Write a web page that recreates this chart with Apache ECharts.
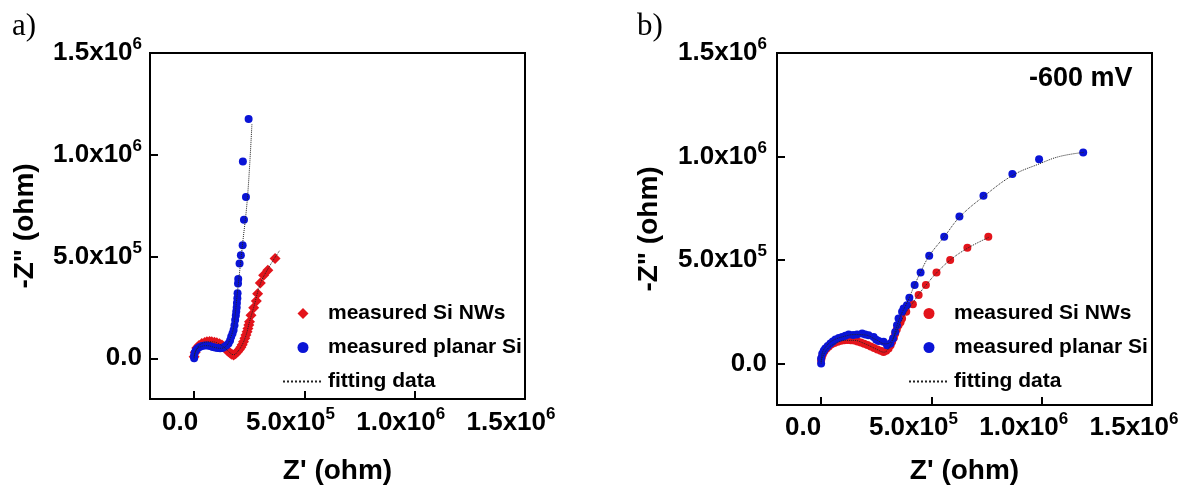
<!DOCTYPE html>
<html>
<head>
<meta charset="utf-8">
<script src="https://cdn.jsdelivr.net/npm/echarts@6/dist/echarts.min.js"></script>
<style>
  html, body { margin: 0; background: #fff; }
  #chart { width: 1191px; height: 486px; }
</style>
</head>
<body>
<div id="chart"></div>
<script>
// axis ticks (both axes, both panels)
const tickValues = [0, 5e5, 1e6, 1.5e6]
const tickMantissa = ['0.0', '5.0x10', '1.0x10', '1.5x10']
const tickExponent = ['', '5', '6', '6']

// panel a) — [Z', -Z'']
const nwA = [[0,8e3],[5e3,3e4],[1.2e4,5e4],[2.2e4,6.3e4],[3.5e4,7.3e4],[4.8e4,7.8e4],[5.8e4,8.1e4],[7e4,8.2e4],[8e4,8.1e4],[9.2e4,7.9e4],[1.03e5,7.6e4],[1.15e5,7.1e4],[1.26e5,6.5e4],[1.34e5,5.7e4],[1.41e5,4.9e4],[1.49e5,4e4],[1.56e5,3.2e4],[1.64e5,2.5e4],[1.71e5,2e4],[1.79e5,1.6e4],[1.88e5,2.2e4],[1.97e5,3.2e4],[2.05e5,4.3e4],[2.12e5,5.4e4],[2.18e5,6.7e4],[2.24e5,8.1e4],[2.3e5,9.8e4],[2.35e5,1.14e5],[2.4e5,1.3e5],[2.44e5,1.47e5],[2.48e5,1.63e5],[2.51e5,1.79e5],[2.58e5,2.12e5],[2.7e5,2.48e5],[2.82e5,2.82e5],[2.88e5,3.17e5],[3.0e5,3.7e5],[3.15e5,4.08e5],[3.34e5,4.33e5],[3.67e5,4.9e5]]
const planarA = [[0,0],[0,1.5e4],[3e3,2.8e4],[8e3,3.9e4],[1.5e4,4.8e4],[2.5e4,5.5e4],[3.6e4,6e4],[4.8e4,6.3e4],[6e4,6.3e4],[7.2e4,6e4],[8.4e4,5.6e4],[9.5e4,5.3e4],[1.06e5,5e4],[1.18e5,4.9e4],[1.28e5,5.1e4],[1.36e5,5.5e4],[1.46e5,6.3e4],[1.56e5,7.3e4],[1.63e5,8.8e4],[1.68e5,1.06e5],[1.74e5,1.22e5],[1.79e5,1.39e5],[1.83e5,1.62e5],[1.86e5,1.88e5],[1.89e5,2.1e5],[1.91e5,2.3e5],[1.93e5,2.5e5],[1.94e5,2.72e5],[1.96e5,2.95e5],[1.97e5,3.2e5],[1.99e5,3.68e5],[2.0e5,3.9e5],[2.06e5,4.66e5],[2.12e5,5.06e5],[2.2e5,5.55e5],[2.26e5,6.81e5],[2.35e5,7.92e5],[2.21e5,9.67e5],[2.47e5,1.176e6]]
const fitNwA = [[0,1e4],[2e4,6e4],[5e4,7.9e4],[8e4,8.1e4],[1.1e5,7.3e4],[1.4e5,5e4],[1.65e5,2.5e4],[1.8e5,1.7e4],[1.95e5,3e4],[2.15e5,6e4],[2.35e5,1.12e5],[2.5e5,1.75e5],[2.7e5,2.5e5],[3.0e5,3.65e5],[3.35e5,4.4e5],[3.88e5,5.3e5]]
const fitPlanarA = [[0,0],[8e3,4e4],[3e4,5.7e4],[6e4,6.2e4],[9e4,5.4e4],[1.2e5,4.9e4],[1.45e5,6e4],[1.65e5,1e5],[1.8e5,1.6e5],[1.94e5,3.0e5],[2.18e5,5.45e5],[2.42e5,7.92e5],[2.62e5,1.15e6]]

// panel b) — [Z', -Z''] at -600 mV
const nwB = [[0,1.5e4],[3e3,3e4],[8e3,4.5e4],[1.5e4,6e4],[2.5e4,7.3e4],[3.5e4,8.3e4],[4.7e4,9.3e4],[6e4,1.0e5],[7.5e4,1.06e5],[9e4,1.1e5],[1.05e5,1.13e5],[1.2e5,1.14e5],[1.35e5,1.13e5],[1.5e5,1.11e5],[1.65e5,1.07e5],[1.8e5,1.02e5],[1.95e5,9.6e4],[2.1e5,9e4],[2.25e5,8.3e4],[2.4e5,7.5e4],[2.55e5,6.8e4],[2.7e5,6.2e4],[2.83e5,5.6e4],[2.95e5,6.2e4],[3.06e5,7.3e4],[3.15e5,8.8e4],[3.22e5,1.05e5],[3.3e5,1.25e5],[3.36e5,1.45e5],[3.43e5,1.65e5],[3.51e5,1.85e5],[3.6e5,2.0e5],[3.67e5,2.18e5],[3.86e5,2.5e5],[4.16e5,2.87e5],[4.42e5,3.31e5],[4.75e5,3.8e5],[5.23e5,4.4e5],[5.85e5,5.0e5],[6.63e5,5.6e5],[7.58e5,6.13e5]]
const planarB = [[0,0],[0,2.4e4],[5e3,4.8e4],[1.2e4,6.2e4],[1.9e4,7.3e4],[3e4,8.5e4],[4.2e4,9.7e4],[5.3e4,1.07e5],[6.5e4,1.16e5],[8e4,1.23e5],[9.5e4,1.29e5],[1.1e5,1.35e5],[1.25e5,1.4e5],[1.45e5,1.38e5],[1.63e5,1.4e5],[1.86e5,1.45e5],[2.0e5,1.4e5],[2.15e5,1.37e5],[2.38e5,1.29e5],[2.5e5,1.15e5],[2.61e5,1.09e5],[2.83e5,1.05e5],[2.99e5,8.9e4],[3.14e5,9.7e4],[3.26e5,1.21e5],[3.36e5,1.53e5],[3.44e5,1.85e5],[3.51e5,2.18e5],[3.67e5,2.5e5],[3.74e5,2.66e5],[3.89e5,2.82e5],[4.0e5,3.18e5],[4.24e5,3.79e5],[4.51e5,4.4e5],[4.9e5,5.21e5],[5.58e5,6.13e5],[6.27e5,7.1e5],[7.36e5,8.11e5],[8.67e5,9.16e5],[9.88e5,9.87e5],[1.188e6,1.019e6]]
const fitNwB = [[0,1e4],[2e4,6e4],[6e4,9.5e4],[1.1e5,1.12e5],[1.5e5,1.12e5],[2e5,9.5e4],[2.5e5,7e4],[2.85e5,5.5e4],[3.1e5,8e4],[3.35e5,1.4e5],[3.6e5,2e5],[3.9e5,2.55e5],[4.2e5,3e5],[4.5e5,3.45e5],[4.8e5,3.85e5],[5.25e5,4.4e5],[5.85e5,5e5],[6.6e5,5.55e5],[7.6e5,6.1e5]]
const fitPlanarB = [[0,0],[5e3,5e4],[2e4,8e4],[5e4,1.1e5],[1e5,1.3e5],[1.5e5,1.4e5],[2e5,1.38e5],[2.5e5,1.15e5],[2.9e5,9.5e4],[3.2e5,1.1e5],[3.4e5,1.7e5],[3.6e5,2.3e5],[3.9e5,2.95e5],[4.2e5,3.7e5],[4.5e5,4.4e5],[4.9e5,5.2e5],[5.6e5,6.15e5],[6.3e5,7.1e5],[7.4e5,8.1e5],[8.7e5,9.1e5],[9.9e5,9.65e5],[1.08e6,1.0e6],[1.19e6,1.02e6]]

const FONT = '"Liberation Sans", Arial, sans-serif'
const RED = '#e3141b'
const BLUE = '#0a14d6'
const DIAMOND = 'path://M5,0L10,5L5,10L0,5Z'

const rich = {
  b: { fontSize: 26, fontWeight: 'bold', fontFamily: FONT, color: '#000', lineHeight: 34 },
  s: { fontSize: 17, fontWeight: 'bold', fontFamily: FONT, color: '#000', lineHeight: 17, verticalAlign: 'top' }
}

// 刻度标签：尾数 + 上标指数
function tickFormatter(value) {
  const i = tickValues.findIndex((v) => Math.abs(v - value) < 1)
  if (i < 0) return ''
  return tickExponent[i] ? `{b|${tickMantissa[i]}}{s|${tickExponent[i]}}` : `{b|${tickMantissa[i]}}`
}

const nameStyle = { fontSize: 28, fontWeight: 'bold', fontFamily: FONT, color: '#000' }
const axisLine = { onZero: false, lineStyle: { color: '#000', width: 2 } }
const axisTick = { inside: true, length: 8, lineStyle: { color: '#000', width: 2 }, customValues: tickValues }

function xAxis(gridIndex, shift, margin, nameGap) {
  return {
    type: 'value', gridIndex, min: -2e5, max: 1.5e6,
    name: "Z' (ohm)", nameLocation: 'middle', nameGap, nameTextStyle: nameStyle,
    axisLine, axisTick,
    axisLabel: { customValues: tickValues, formatter: tickFormatter, rich, margin, padding: [0, shift, 0, 0] },
    splitLine: { show: false }
  }
}

function yAxis(gridIndex, margin, nameGap) {
  return {
    type: 'value', gridIndex, min: -2e5, max: 1.5e6,
    name: '-Z" (ohm)', nameLocation: 'middle', nameGap, nameTextStyle: nameStyle,
    axisLine, axisTick,
    axisLabel: { customValues: tickValues, formatter: tickFormatter, rich, margin },
    splitLine: { show: false }
  }
}

function scatter(name, data, idx, symbol, size, color) {
  return {
    name, type: 'scatter', xAxisIndex: idx, yAxisIndex: idx, data,
    symbol, symbolSize: size, itemStyle: { color, opacity: 1 }
  }
}

function fit(data, idx) {
  return {
    name: 'fitting data', type: 'line', xAxisIndex: idx, yAxisIndex: idx, data,
    smooth: 0.4, symbol: 'none', z: 5,
    itemStyle: { color: '#222' },
    lineStyle: { color: '#222', width: 1, type: 'dotted' }
  }
}

function legend(left, top, nwIcon) {
  return {
    orient: 'vertical', left, top, itemWidth: 40, itemHeight: 11, itemGap: 13,
    selectedMode: false,
    textStyle: { fontSize: 21, fontWeight: 'bold', fontFamily: FONT, color: '#000' },
    data: [
      { name: 'measured Si NWs', icon: nwIcon },
      { name: 'measured planar Si', icon: 'circle' },
      { name: 'fitting data', itemStyle: { opacity: 0 } }
    ]
  }
}

const chart = echarts.init(document.getElementById('chart'))
chart.setOption({
  animation: false,
  backgroundColor: '#fff',
  grid: [
    { left: 150, top: 53, width: 375, height: 346, outerBoundsMode: 'none', show: true, borderColor: '#000', borderWidth: 2 },
    { left: 777, top: 53, width: 375, height: 352, outerBoundsMode: 'none', show: true, borderColor: '#000', borderWidth: 2 }
  ],
  xAxis: [xAxis(0, 28, 7, 58), xAxis(1, 36, 6, 52)],
  yAxis: [yAxis(0, 8, 111), yAxis(1, 10, 114)],
  legend: [legend(277, 298, DIAMOND), legend(903, 298, 'circle')],
  series: [
    scatter('measured Si NWs', nwA, 0, 'diamond', 11, RED),
    scatter('measured planar Si', planarA, 0, 'circle', 8, BLUE),
    fit(fitNwA, 0),
    fit(fitPlanarA, 0),
    scatter('measured Si NWs', nwB, 1, 'circle', 8, RED),
    scatter('measured planar Si', planarB, 1, 'circle', 8, BLUE),
    fit(fitNwB, 1),
    fit(fitPlanarB, 1)
  ],
  graphic: [
    { type: 'text', left: 12, top: 11, style: { text: 'a)', font: '31px "Liberation Serif", serif', fill: '#000' } },
    { type: 'text', left: 637, top: 11, style: { text: 'b)', font: '31px "Liberation Serif", serif', fill: '#000' } },
    { type: 'text', left: 1029, top: 65, style: { text: '-600 mV', font: 'bold 27px "Liberation Sans", Arial, sans-serif', fill: '#000' } }
  ]
})
</script>
</body>
</html>
